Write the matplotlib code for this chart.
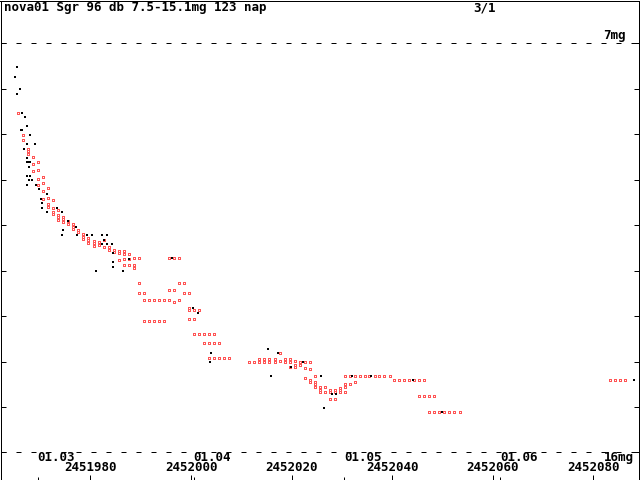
import matplotlib
matplotlib.use("Agg")
import matplotlib.pyplot as plt
import numpy as np

plt.rcParams['lines.scale_dashes'] = False

JD0 = 2451960.0

# black points: (day offset from JD0, magnitude)
black_day = [5.44, 5.04, 6.09, 5.44, 6.43, 7.09, 7.42, 6.29, 6.49, 8.08, 7.42, 9.07, 6.89, 7.42,
             7.42, 7.75, 8.08, 7.88, 7.42, 8.08, 7.75, 8.42, 7.42, 9.21, 9.87, 11.46, 10.20,
             10.46, 13.38, 10.32, 11.46, 14.44, 14.56, 15.49, 17.16, 14.44, 17.36, 19.40, 20.40,
             22.38, 23.38, 22.32, 22.64, 23.38, 24.37, 24.51, 21.19, 27.61, 24.51, 24.51, 26.50,
             36.23, 40.40, 41.40, 44.04, 43.84, 55.31, 57.29, 62.26, 59.94, 55.90, 65.90, 68.02,
             68.88, 66.43, 72.06, 75.83, 84.11, 89.88, 128.03]
black_mag = [7.52, 7.73, 8.01, 8.12, 8.52, 8.62, 8.82, 8.91, 8.91, 9.01, 9.22, 9.22, 9.32, 9.52,
             9.61, 9.61, 9.61, 9.72, 9.92, 9.92, 10.01, 10.01, 10.11, 10.11, 10.21, 10.32, 10.42,
             10.51, 10.62, 10.62, 10.71, 10.71, 11.11, 10.91, 11.03, 11.22, 11.22, 11.22, 11.22,
             11.22, 11.22, 11.42, 11.32, 11.42, 11.42, 11.61, 12.01, 11.74, 11.81, 11.92, 12.01,
             11.72, 12.82, 12.92, 13.82, 14.02, 13.73, 13.82, 14.02, 14.12, 14.32, 14.32, 14.72,
             14.72, 15.03, 14.32, 14.32, 14.41, 15.11, 14.41]

# red points: (day offset from JD0, magnitude)
red_day = [5.56, 6.55, 6.55, 7.54, 7.54, 7.54, 8.54, 8.54, 9.53, 8.54, 9.53, 10.52, 9.53, 10.52,
           9.53, 11.52, 10.52, 11.52, 10.52, 12.51, 11.52, 11.52, 12.51, 13.50, 12.51, 12.51,
           13.50, 13.50, 14.50, 14.50, 14.50, 13.50, 15.49, 15.49, 16.48, 16.48, 16.48, 17.48,
           17.48, 18.47, 18.47, 18.47, 19.46, 19.46, 19.46, 20.66, 20.66, 20.66, 21.65, 21.65,
           22.64, 22.64, 23.64, 23.64, 24.63, 24.63, 25.62, 25.62, 26.62, 26.62, 27.61, 28.60,
           29.60, 25.62, 26.62, 27.61, 26.62, 27.61, 28.60, 28.60, 35.56, 36.55, 37.54, 29.60,
           37.54, 38.54, 35.56, 36.55, 29.60, 30.59, 38.54, 39.53, 30.59, 31.58, 32.58, 33.57,
           34.56, 35.56, 36.55, 37.54, 39.53, 39.53, 40.52, 41.52, 39.53, 40.52, 30.59, 31.58,
           32.58, 33.57, 34.56, 40.52, 41.52, 42.51, 43.50, 44.50, 42.51, 43.50, 44.50, 45.49,
           43.50, 44.50, 45.49, 46.48, 47.48, 57.61, 51.45, 52.45, 53.44, 54.43, 55.43, 53.44,
           54.43, 55.43, 56.62, 56.62, 57.61, 58.61, 58.61, 59.60, 59.60, 60.59, 61.59, 61.59,
           62.58, 63.57, 59.60, 60.59, 60.59, 62.58, 63.57, 64.57, 62.58, 63.57, 63.57, 64.57,
           64.57, 64.57, 65.56, 66.55, 67.55, 67.55, 68.54, 68.54, 69.53, 69.53, 69.53, 65.56,
           65.56, 66.55, 67.55, 68.54, 70.53, 70.53, 70.53, 71.52, 72.51, 70.53, 71.52, 72.51,
           73.51, 74.50, 75.49, 76.49, 77.48, 78.47, 79.47, 80.46, 81.45, 82.45, 83.44, 84.43,
           85.42, 86.42, 85.42, 86.42, 87.41, 88.41, 87.41, 88.41, 89.40, 90.39, 91.39, 92.38,
           93.57, 123.38, 124.37, 125.37, 126.36]
red_mag = [8.52, 9.01, 9.12, 9.32, 9.37, 9.43, 9.49, 9.65, 9.61, 9.80, 9.78, 9.93, 9.98, 10.07,
           10.11, 10.18, 10.24, 10.40, 10.42, 10.44, 10.53, 10.59, 10.62, 10.66, 10.71, 10.75,
           10.77, 10.82, 10.82, 10.86, 10.92, 10.88, 10.90, 10.98, 10.98, 11.04, 11.09, 11.11,
           11.15, 11.19, 11.25, 11.31, 11.28, 11.32, 11.40, 11.34, 11.40, 11.45, 11.37, 11.43,
           11.32, 11.48, 11.48, 11.54, 11.54, 11.58, 11.56, 11.61, 11.57, 11.63, 11.63, 11.72,
           11.72, 11.76, 11.74, 11.74, 11.87, 11.87, 11.87, 11.94, 11.72, 11.72, 11.72, 12.27,
           12.27, 12.27, 12.42, 12.42, 12.49, 12.49, 12.49, 12.49, 12.64, 12.64, 12.64, 12.64,
           12.64, 12.64, 12.68, 12.64, 12.82, 12.86, 12.86, 12.86, 13.06, 13.06, 13.11, 13.11,
           13.11, 13.11, 13.11, 13.39, 13.39, 13.39, 13.39, 13.39, 13.59, 13.59, 13.59, 13.59,
           13.92, 13.92, 13.92, 13.92, 13.92, 13.82, 14.00, 14.00, 14.00, 14.00, 14.00, 13.95,
           13.95, 13.95, 13.95, 14.00, 13.98, 13.95, 14.00, 13.95, 14.00, 13.98, 14.02, 14.07,
           14.00, 14.00, 14.12, 14.12, 14.07, 14.14, 14.16, 14.32, 14.36, 14.41, 14.45, 14.45,
           14.50, 14.56, 14.56, 14.56, 14.62, 14.68, 14.62, 14.68, 14.58, 14.63, 14.68, 14.62,
           14.66, 14.68, 14.82, 14.82, 14.50, 14.56, 14.68, 14.50, 14.45, 14.32, 14.32, 14.32,
           14.32, 14.32, 14.32, 14.32, 14.32, 14.32, 14.32, 14.41, 14.41, 14.41, 14.41, 14.41,
           14.41, 14.41, 14.75, 14.75, 14.75, 14.75, 15.11, 15.11, 15.11, 15.11, 15.11, 15.11,
           15.11, 14.41, 14.41, 14.41, 14.41]

jd_ticks = [2451980, 2452000, 2452020, 2452040, 2452060, 2452080]
month_jd = [2451969.5, 2452000.5, 2452030.5, 2452061.5]
month_labels = ['01.03', '01.04', '01.05', '01.06']
mag_ticks = [7, 8, 9, 10, 11, 12, 13, 14, 15, 16]
mag_min, mag_max = 7, 16

title = "nova01 Sgr 96 db 7.5-15.1mg 123 nap"
page = "3/1"

RED = '#ff5555'
FONT = dict(family='DejaVu Sans Mono', fontweight='bold', fontsize=9.0)

fig = plt.figure(figsize=(6.4, 4.8), dpi=100)
W, H = 640, 480
ax = fig.add_axes([0.5 / W, 0.5 / H, 638.5 / W, 479 / H])

bx = np.array(black_day) + JD0
rx = np.array(red_day) + JD0

# red hollow squares: filled red square with white centre
ax.plot(rx, red_mag, ls='none', marker='s', ms=2.16, mew=0, mfc=RED,
        antialiased=False, zorder=3)
ax.plot(rx, red_mag, ls='none', marker='s', ms=0.72, mew=0, mfc='white',
        antialiased=False, zorder=3.5)
ax.plot(bx, black_mag, ls='none', marker='s', ms=1.44, mew=0, mfc='black',
        antialiased=False, zorder=4)

for m in (mag_min, mag_max):
    ax.axhline(m, color='black', lw=0.72, dashes=(3.6, 7.2), zorder=2)

ax.set_xlim(2451962.12, 2452089.08)
ax.set_ylim(16.595, 6.054)

for s in ax.spines.values():
    s.set_linewidth(0.72)

ax.set_yticks(mag_ticks)
ax.set_yticklabels([])
ax.tick_params(axis='y', which='major', direction='in', length=3.6, width=0.72,
               left=True, right=True)
ax.set_xticks(jd_ticks)
ax.set_xticks(month_jd, minor=True)
ax.set_xticklabels([])
ax.tick_params(axis='x', which='major', direction='in', length=3.6, width=0.72,
               bottom=True, top=False)
ax.tick_params(axis='x', which='minor', direction='in', length=2.4, width=0.72,
               bottom=True, top=False)

for jd in jd_ticks:
    ax.annotate(str(jd), xy=(jd, H - 471), xycoords=('data', 'figure pixels'),
                ha='center', va='baseline', **FONT)
for jd, lab in zip(month_jd, month_labels):
    ax.annotate(lab, xy=(jd, H - 461), xycoords=('data', 'figure pixels'),
                ha='left', va='baseline', **FONT)

fig.text(4 / W, 1 - 11.5 / H, title, ha='left', va='baseline', **FONT)
fig.text(473 / W, 1 - 11.5 / H, page, ha='left', va='baseline', **FONT)
fig.text(603 / W, 1 - 39.5 / H, f"{mag_min}mg", ha='left', va='baseline', **FONT)
fig.text(604 / W, 1 - 461 / H, f"{mag_max}mg", ha='left', va='baseline', **FONT)

fig.savefig('out.png', dpi=100)
